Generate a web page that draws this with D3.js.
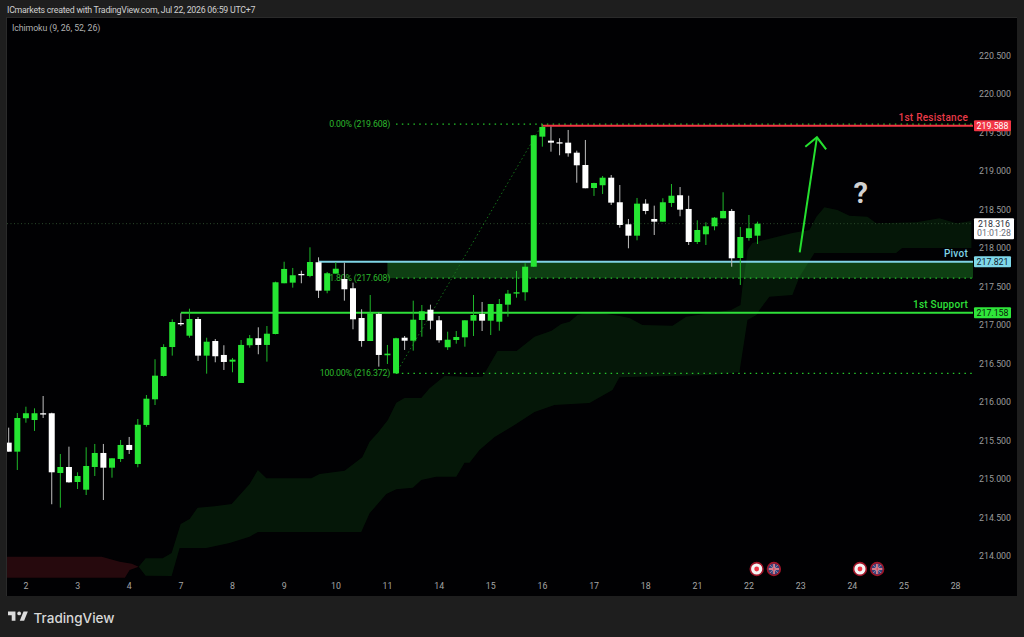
<!DOCTYPE html>
<html><head><meta charset="utf-8">
<style>html,body{margin:0;padding:0;background:#1d1d1d;overflow:hidden}svg{display:block}text{font-family:Roboto,sans-serif}</style>
<script src="https://cdnjs.cloudflare.com/ajax/libs/d3/7.8.5/d3.min.js"></script>
</head><body><svg id="c" width="1024" height="637"></svg>
<script>
const opens=[215.472,215.355,215.789,215.766,215.854,215.854,215.078,215.156,214.961,214.861,215.156,215.338,215.147,215.260,215.442,215.195,215.702,216.035,216.338,216.714,217.026,216.861,217.078,216.602,216.792,216.611,216.524,216.247,216.737,216.828,216.741,216.883,217.542,217.550,217.663,217.637,217.815,217.446,217.667,217.598,217.477,217.091,216.792,217.143,216.607,216.372,216.835,216.796,217.065,217.199,217.061,216.711,216.805,216.840,217.056,217.143,217.056,217.043,217.264,217.412,217.425,217.757,219.446,219.394,219.373,219.368,219.238,219.078,218.779,218.815,218.913,218.594,218.308,218.160,218.576,218.377,218.342,218.585,218.685,218.507,218.078,218.178,218.282,218.386,218.481,217.870,218.130,218.160];
const highs=[215.667,215.857,215.939,215.918,216.078,215.861,215.325,215.420,215.087,215.412,215.455,215.455,215.269,215.507,215.546,215.779,216.091,216.555,216.750,217.074,217.152,217.212,217.104,216.835,216.818,216.737,216.572,216.805,216.870,216.970,216.987,217.563,217.822,217.741,217.705,218.009,217.879,217.689,217.815,217.809,217.550,217.204,217.390,217.160,216.741,216.835,216.857,217.316,217.260,217.264,217.117,216.913,216.922,217.061,217.390,217.299,217.273,217.338,217.455,217.702,217.802,219.468,219.608,219.576,219.425,219.533,219.264,219.403,218.848,218.935,218.948,218.818,218.377,218.650,218.633,218.550,218.646,218.831,218.792,218.679,218.360,218.334,218.403,218.724,218.507,218.273,218.429,218.342];
const lows=[215.355,215.117,215.731,215.624,215.792,214.672,214.628,214.952,214.870,214.792,215.039,214.727,215.017,215.221,215.325,215.152,215.679,215.961,216.329,216.602,216.987,216.835,216.533,216.368,216.516,216.416,216.386,216.247,216.705,216.620,216.524,216.879,217.542,217.485,217.542,217.620,217.351,217.412,217.667,217.316,216.944,216.718,216.792,216.459,216.494,216.372,216.676,216.667,216.848,216.944,216.770,216.676,216.757,216.718,216.857,216.922,216.870,216.926,217.108,217.355,217.316,217.753,219.316,219.251,219.204,219.186,218.848,218.776,218.676,218.702,218.559,218.264,217.996,218.100,218.438,218.169,218.342,218.533,218.412,218.039,218.052,218.039,218.230,218.386,217.757,217.520,218.095,218.052];
const closes=[215.355,215.792,215.854,215.854,215.844,215.087,215.156,214.957,215.039,215.169,215.338,215.147,215.269,215.442,215.377,215.705,216.043,216.342,216.714,217.039,217.009,217.078,216.602,216.783,216.594,216.520,216.550,216.741,216.828,216.741,216.887,217.555,217.728,217.646,217.654,217.818,217.446,217.672,217.731,217.464,217.074,216.792,217.152,216.611,216.628,216.828,216.796,217.069,217.178,217.056,216.802,216.809,216.844,217.061,217.130,217.056,217.273,217.273,217.407,217.425,217.757,219.464,219.572,219.368,219.361,219.230,219.074,218.776,218.844,218.913,218.589,218.299,218.160,218.576,218.481,218.342,218.594,218.679,218.498,218.078,218.234,218.282,218.394,218.481,217.866,218.143,218.256,218.316];

const cloudTopIdx=[15.1,15.91,17.89,18.93,19.98,21.02,21.95,23.92,25.9,27.99,28.95,29.93,35.16,36.12,39.02,41.08,41.93,42.89,44.05,45.03,45.99,47.93,48.9,50.64,53.54,55.05,56.79,59,61.09,63.07,64.19,65.16,66.08,67.83,70.96,72.12,73.63,77.12,78.71,83.93,85.02,85.25,85.71,85.83,86.41,88.73,91.05,93.03,93.84,94.77,96.28,97.68,99.77,100.8,105.46,108.13,110.1,111.85];
const cloudTop=[213.861,213.97,213.97,214.039,214.416,214.481,214.628,214.646,214.676,214.935,215.117,215.009,215.009,215.065,215.108,215.282,215.485,215.602,215.766,215.991,216.052,216.052,216.178,216.338,216.325,216.329,216.663,216.663,216.848,216.926,217.013,217.043,217.13,217.173,217.117,217.091,217,216.991,217.108,217.195,217.26,217.498,217.844,217.974,218.065,218.13,218.195,218.234,218.407,218.529,218.494,218.42,218.407,218.321,218.334,218.386,218.321,218.351];
const cloudBottomIdx=[15.1,15.91,18.93,19.86,22.96,25.67,27.99,28.95,40.96,41.93,43.87,45.03,46.96,47.93,49.67,52,52.96,53.54,54.7,56.45,58.77,61.09,63.41,67.48,70.15,70.96,81.77,84.9,85.83,86.88,87.22,88.38,91.05,91.86,93.61,103.1,103.8,111.85];
const cloudBottom=[213.861,213.745,213.741,214.104,214.104,214.169,214.251,214.312,214.312,214.555,214.805,214.866,214.887,214.987,215.03,215.03,215.212,215.212,215.377,215.546,215.702,215.87,215.961,215.987,216.156,216.321,216.351,216.39,217.065,217.13,217.195,217.368,217.39,217.624,217.935,217.935,218,218];
const redTopIdx=[-2,10.8,12.9,14.3,15.1];
const redTop=[213.991,213.991,213.926,213.9,213.861];
const redBottomIdx=[-2,13.5,14.05,15.1];
const redBottom=[213.718,213.718,213.818,213.861];

const priceTicks=[220.5,220,219.5,219,218.5,218,217.5,217,216.5,216,215.5,215,214.5,214];
const dayLabels=["2","3","4","7","8","9","10","11","14","15","16","17","18","21","22","23","24","25","28"];
const dayIdx=[2,8,14,20,26,32,38,44,50,56,62,68,74,80,86,92,98,104,110];

const resistance=219.588, pivot=217.821, support=217.158, last=218.316;
const fibHigh=219.608, fib618=217.608, fibLow=216.372;
const resistanceStart=61.9, pivotStart=36, supportStart=20, fibStart=45, bandStart=44, endIdx=112;
const arrowShaft=[[91.9,217.944],[93.9,219.438]];
const arrowHead=[[92.55,219.316],[93.9,219.438],[94.97,219.282]];
const questionAt=[99,218.58];
const eventIdx=[86.9,88.9,98.9,100.9];
const eventKind=["jp","uk","jp","uk"];

const svg=d3.select("#c");
const plot={l:7,r:1017,t:18,b:596};
const x=d3.scaleLinear().domain([0,110]).range([8.7,955.5]);
const y=d3.scaleLinear().domain([214,220]).range([556,94]);
const right=973;
const defs=svg.append("defs");
defs.append("clipPath").attr("id","pc").append("rect").attr("x",plot.l).attr("y",plot.t).attr("width",right-plot.l).attr("height",plot.b-plot.t);

svg.append("rect").attr("width",1024).attr("height",637).attr("fill","#1e1e1e");
svg.append("rect").attr("x",plot.l-1).attr("y",plot.t-1).attr("width",plot.r-plot.l+1).attr("height",plot.b-plot.t+1).attr("fill","#2a2a2a");
svg.append("rect").attr("x",plot.l).attr("y",plot.t).attr("width",plot.r-plot.l).attr("height",plot.b-plot.t).attr("fill","#010103");

svg.append("text").attr("x",7).attr("y",13).attr("font-size",8.8).attr("letter-spacing",-0.25).attr("fill","#d0d0d0").text("ICmarkets created with TradingView.com, Jul 22, 2026 06:59 UTC+7");
svg.append("text").attr("x",12).attr("y",31).attr("font-size",8.8).attr("letter-spacing",-0.1).attr("fill","#b0b0b0").text("Ichimoku (9, 26, 52, 26)");

const g=svg.append("g").attr("clip-path","url(#pc)");
const poly=(ax,ay,bx,by)=>{
  const pts=ax.map((v,i)=>[v,ay[i]]).concat(bx.map((v,i)=>[v,by[i]]).reverse());
  return d3.line().x(d=>x(d[0])).y(d=>y(d[1]))(pts)+"Z";
};
g.append("path").attr("d",poly(redTopIdx,redTop,redBottomIdx,redBottom)).attr("fill","#26090d");
g.append("path").attr("d",poly(cloudTopIdx,cloudTop,cloudBottomIdx,cloudBottom)).attr("fill","#22a02c").attr("fill-opacity",.14);

// current price line
g.append("line").attr("x1",plot.l).attr("x2",right).attr("y1",y(last)).attr("y2",y(last)).attr("stroke","#2c4a2c").attr("stroke-dasharray","1 2.5");

// fib band and levels
g.append("rect").attr("x",x(bandStart)).attr("width",right-x(bandStart)).attr("y",y(pivot)).attr("height",y(fib618)-y(pivot)).attr("fill","#26b032").attr("fill-opacity",.36);
g.selectAll("line.fib").data([fibHigh,fib618,fibLow]).join("line").attr("class","fib")
  .attr("x1",x(fibStart)).attr("x2",right).attr("y1",d=>y(d)).attr("y2",d=>y(d))
  .attr("stroke","#25c52b").attr("stroke-width",1.2).attr("stroke-dasharray","1.5 4.3");
g.append("line").attr("x1",x(fibStart)).attr("y1",y(fibLow)).attr("x2",x(62)).attr("y2",y(fibHigh))
  .attr("stroke","#15701a").attr("stroke-width",1).attr("stroke-dasharray","1.5 2.5");
const fibText=[["0.00% (219.608)",fibHigh],["61.80% (217.608)",fib618],["100.00% (216.372)",fibLow]];
g.selectAll("text.fibt").data(fibText).join("text").attr("class","fibt")
  .attr("x",390).attr("y",d=>y(d[1])+3).attr("text-anchor","end").attr("font-size",8.8).attr("letter-spacing",-0.2).attr("fill","#2cb82c").text(d=>d[0]);

// horizontal levels
const levels=[[resistance,resistanceStart,"#f23645"],[pivot,pivotStart,"#7fd4e6"],[support,supportStart,"#2fe03a"]];
g.selectAll("line.lvl").data(levels).join("line").attr("class","lvl")
  .attr("x1",d=>x(d[1])).attr("x2",right).attr("y1",d=>y(d[0])).attr("y2",d=>y(d[0]))
  .attr("stroke",d=>d[2]).attr("stroke-width",2);

// candles
const data=opens.map((o,i)=>({i,o,h:highs[i],l:lows[i],c:closes[i]}));
const up=d=>d.c>=d.o;
const col=d=>up(d)?"#25e632":"#ffffff";
const cg=g.selectAll("g.k").data(data).join("g").attr("class","k");
cg.append("line").attr("x1",d=>x(d.i)).attr("x2",d=>x(d.i)).attr("y1",d=>y(d.h)).attr("y2",d=>y(d.l))
  .attr("stroke",d=>up(d)?"#1fb92a":"#c0c0c0").attr("stroke-width",1);
cg.append("rect").attr("x",d=>x(d.i)-3).attr("width",6)
  .attr("y",d=>y(Math.max(d.o,d.c))).attr("height",d=>Math.max(1.3,Math.abs(y(d.o)-y(d.c))))
  .attr("fill",col);

// annotations
const ln=d3.line().x(d=>x(d[0])).y(d=>y(d[1]));
g.append("path").attr("d",ln(arrowShaft)).attr("fill","none").attr("stroke","#25e02f").attr("stroke-width",2);
g.append("path").attr("d",ln(arrowHead)).attr("fill","none").attr("stroke","#25e02f").attr("stroke-width",2);
svg.append("text").attr("x",x(questionAt[0])).attr("y",y(questionAt[1])).attr("text-anchor","middle")
  .attr("font-size",29).attr("font-weight",700).attr("fill","#d2d2d2").text("?");

const lab=[["1st Resistance",resistance,"#e83a48",-4.8],["Pivot",pivot,"#7fd4e6",-4.8],["1st Support",support,"#2fe03a",-4.8]];
svg.selectAll("text.ll").data(lab).join("text").attr("class","ll")
  .attr("x",968).attr("y",d=>y(d[1])+d[3]).attr("text-anchor","end").attr("font-size",10).attr("font-weight",500)
  .attr("letter-spacing",.25).attr("fill",d=>d[2]).text(d=>d[0]);

// axes
const ax=svg.append("g").attr("transform",`translate(979,0)`).call(d3.axisRight(y).tickValues(priceTicks).tickFormat(d3.format(".3f")).tickSize(0).tickPadding(0));
ax.select(".domain").remove();
ax.selectAll("text").attr("font-size",8.8).attr("fill","#9b9b9b").attr("font-family","Roboto,sans-serif");
const bx=svg.append("g").attr("transform",`translate(-0.4,583)`).call(d3.axisBottom(x).tickValues(dayIdx).tickFormat((d,i)=>dayLabels[i]).tickSize(0).tickPadding(0));
bx.select(".domain").remove();
bx.selectAll("text").attr("font-size",8.8).attr("fill","#a5a5a5").attr("font-family","Roboto,sans-serif");

// price tags
const tags=[[resistance,"#f23645","#ffffff"],[pivot,"#7fd8ea","#10202a"],[support,"#2fe63a","#0a200a"]];
const tg=svg.selectAll("g.tag").data(tags).join("g").attr("class","tag");
tg.append("rect").attr("x",974).attr("width",37).attr("height",11).attr("y",d=>y(d[0])-5.5).attr("rx",1).attr("fill",d=>d[1]);
tg.append("text").attr("x",992.5).attr("y",d=>y(d[0])+3).attr("text-anchor","middle").attr("font-size",8.8).attr("fill",d=>d[2]).text(d=>d3.format(".3f")(d[0]));
svg.append("rect").attr("x",974).attr("y",y(last)-5.5).attr("width",40).attr("height",21).attr("rx",1).attr("fill","#ffffff");
svg.append("text").attr("x",994).attr("y",y(last)+3).attr("text-anchor","middle").attr("font-size",8.8).attr("fill","#2a2e39").text(d3.format(".3f")(last));
svg.append("text").attr("x",994).attr("y",y(last)+12).attr("text-anchor","middle").attr("font-size",8.8).attr("fill","#6a6d78").text("01:01:28");

// event flags
const ey=569;
const ev=svg.selectAll("g.ev").data(eventIdx.map((d,i)=>({d,k:eventKind[i]}))).join("g").attr("class","ev").attr("transform",d=>`translate(${x(d.d)},${ey})`);
ev.append("circle").attr("r",6.4).attr("fill",d=>d.k==="jp"?"#f4f4f4":"#34427a").attr("stroke","#a01428").attr("stroke-width",1.6);
ev.filter(d=>d.k==="jp").append("circle").attr("r",2.4).attr("fill","#ee3344");
const uk=ev.filter(d=>d.k==="uk");
uk.append("path").attr("d","M-4-4L4 4M-4 4L4-4").attr("stroke","#a898b0").attr("stroke-width",.8);
uk.append("path").attr("d","M-5 0H5M0-5V5").attr("stroke","#d8c0c8").attr("stroke-width",2);
uk.append("path").attr("d","M-5 0H5M0-5V5").attr("stroke","#d23a50").attr("stroke-width",1);

// logo
const logo=svg.append("g").attr("transform","translate(6.76,607.8) scale(.62)").attr("fill","#dcdcdc");
logo.append("path").attr("d","M14 6H2v6h6v9h6V6z");
logo.append("circle").attr("cx",20).attr("cy",9).attr("r",3);
logo.append("path").attr("d","M28 21h-7l6-15h7l-6 15z");
svg.append("text").attr("x",33.5).attr("y",622.5).attr("font-size",13.5).attr("font-weight",500).attr("fill","#d8d8d8").style("font-family","Inter,Roboto,sans-serif").text("TradingView");
</script></body></html>
